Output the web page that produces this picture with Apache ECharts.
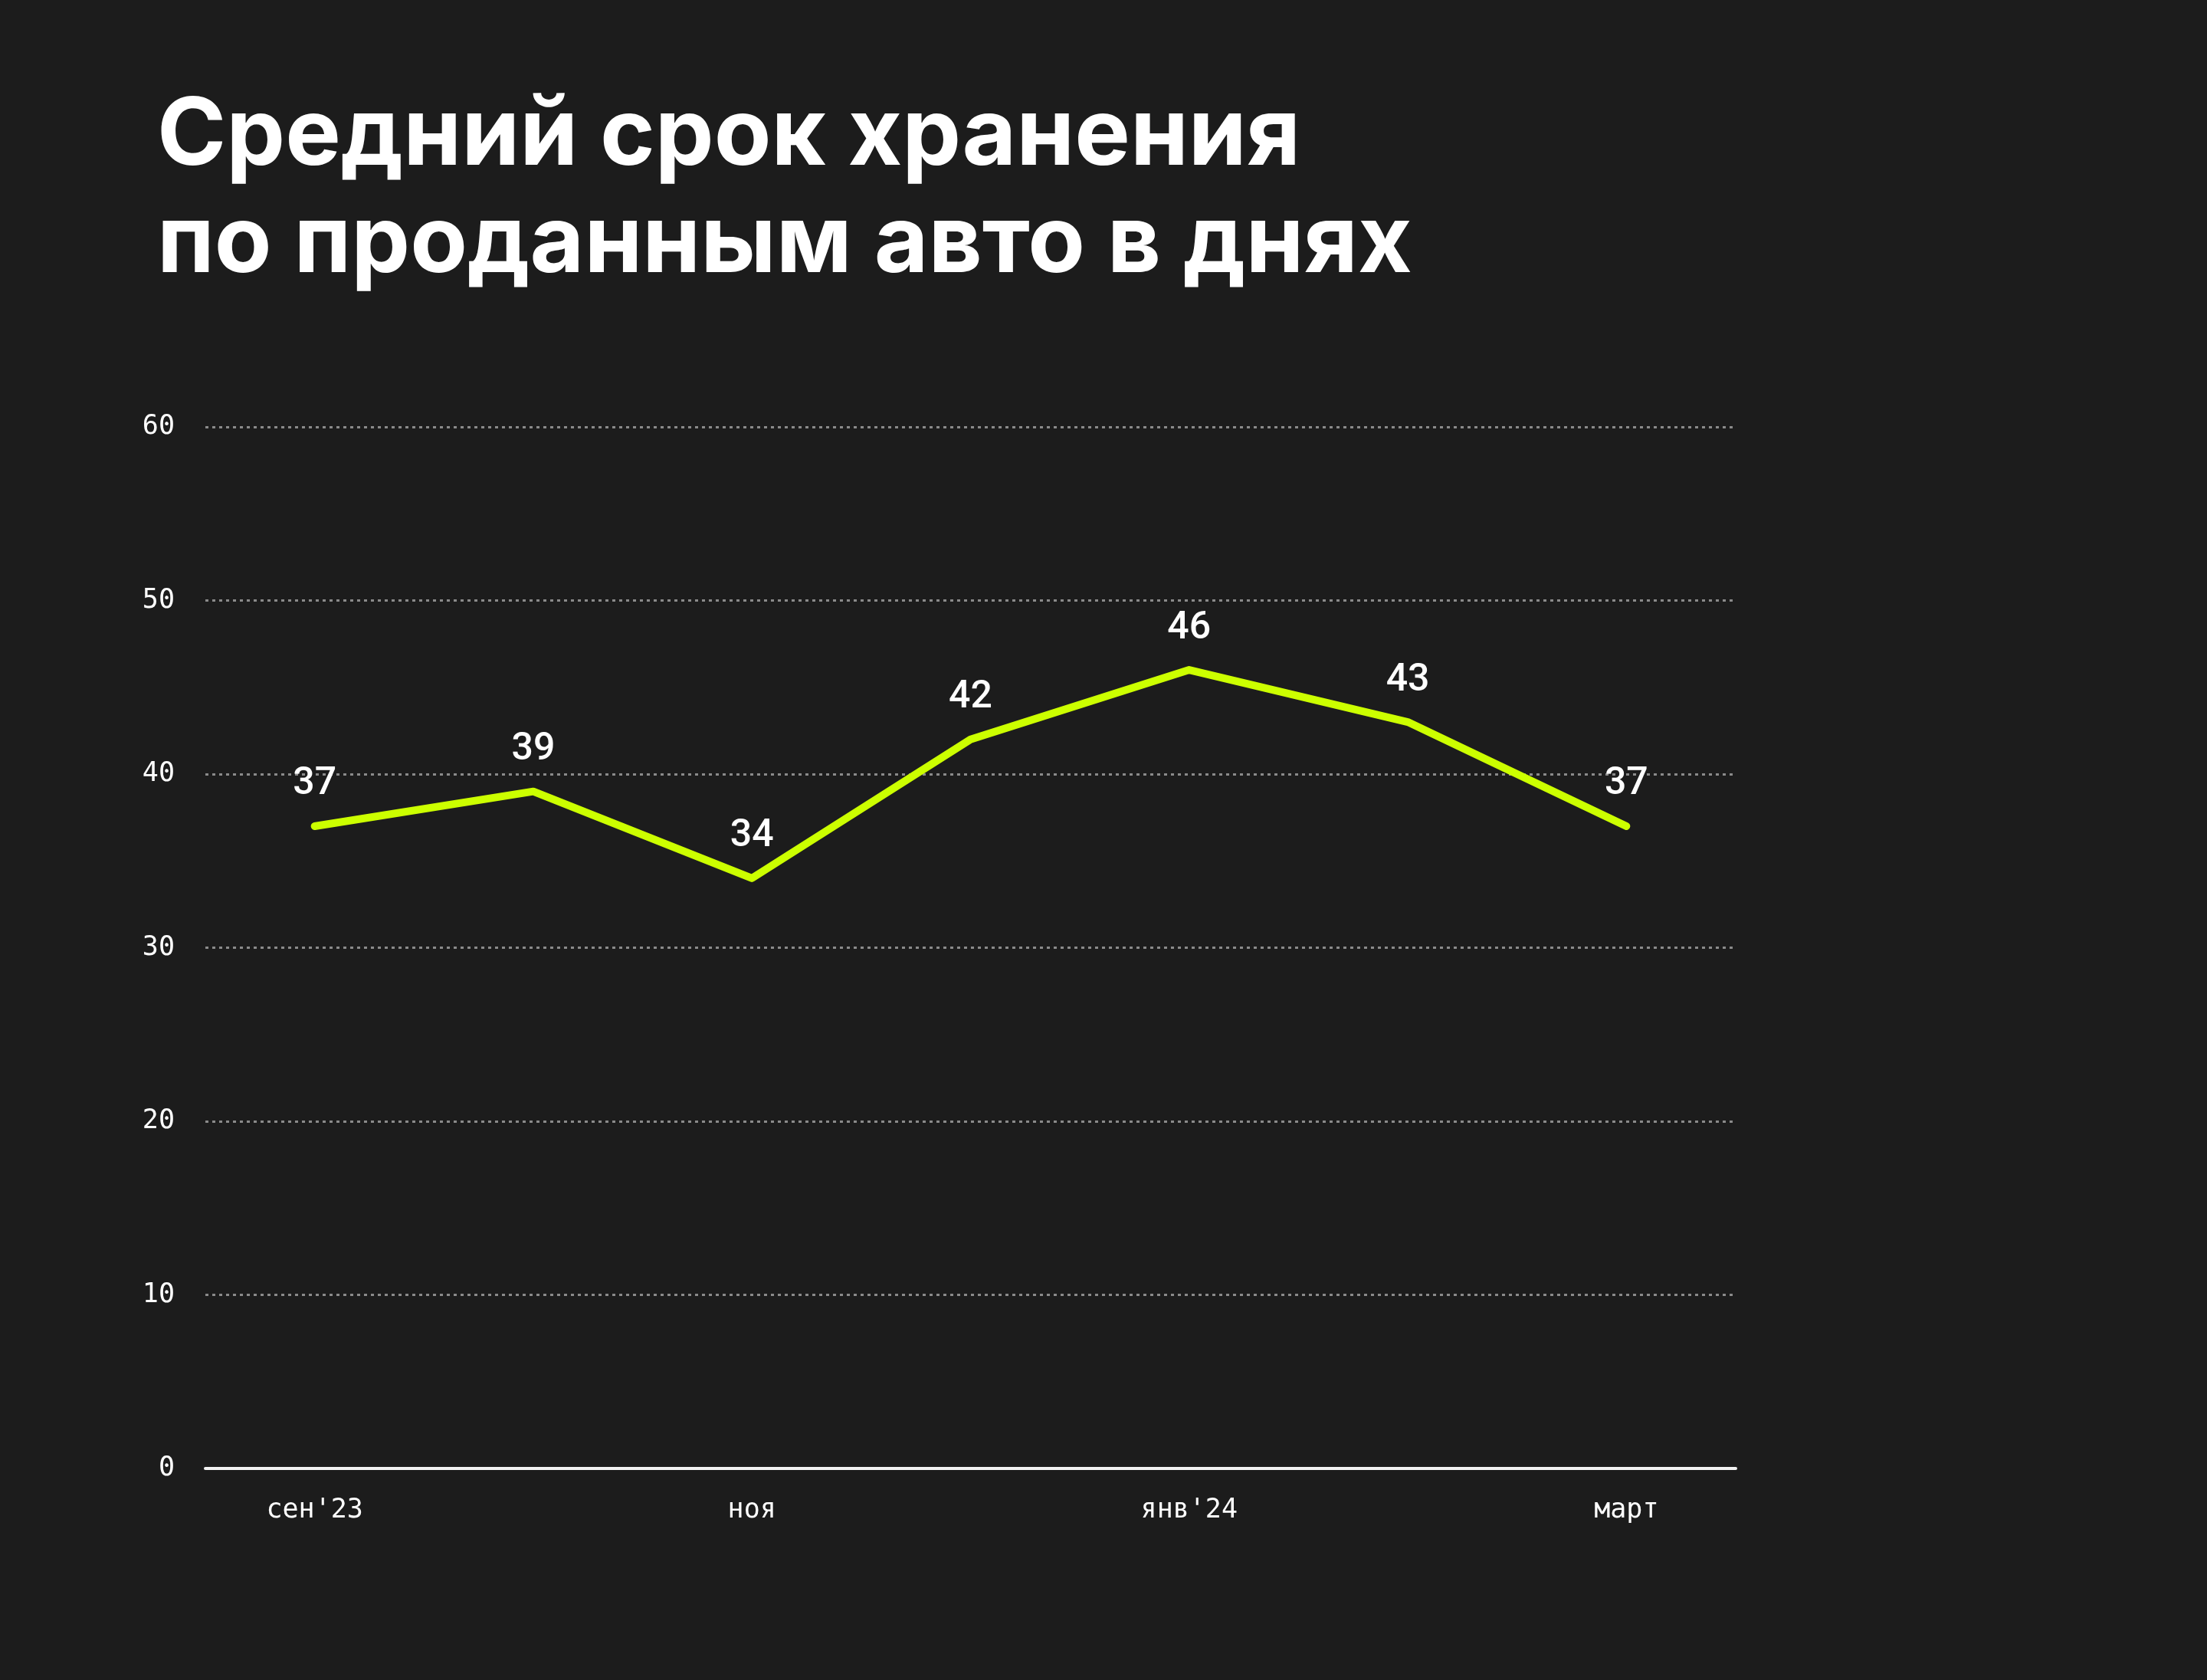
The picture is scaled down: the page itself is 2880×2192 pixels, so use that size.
<!DOCTYPE html>
<html>
<head>
<meta charset="utf-8">
<title>Средний срок хранения</title>
<script src="https://cdn.jsdelivr.net/npm/echarts@6/dist/echarts.min.js"></script>
<style>
  html, body { margin: 0; padding: 0; background: #1c1c1c; }
  #chart { width: 2880px; height: 2192px; }
</style>
</head>
<body>
<div id="chart"></div>
<script>
// данные
var months = ['сен\'23', 'окт', 'ноя', 'дек', 'янв\'24', 'фев', 'март']
var days = [37, 39, 34, 42, 46, 43, 37]
var titleText = 'Средний срок хранения\nпо проданным авто в днях'

var myChart = echarts.init(document.getElementById('chart'))

var monoFont = '"DejaVu Sans Mono", "Liberation Mono", monospace'

var option = {
  backgroundColor: '#1c1c1c',
  animation: false,
  title: {
    text: titleText,
    left: 200,
    top: 103,
    textStyle: {
      color: '#ffffff',
      fontFamily: 'Inter, "Noto Sans", sans-serif',
      fontWeight: 700,
      fontSize: 122,
      lineHeight: 140
    }
  },
  grid: {
    left: 268,
    right: 615,
    top: 557,
    bottom: 276,
    containLabel: false
  },
  xAxis: {
    type: 'category',
    data: months,
    boundaryGap: true,
    axisLine: {
      show: true,
      lineStyle: { color: '#f2f2f2', width: 4 }
    },
    axisTick: { show: false },
    axisLabel: {
      interval: 1,
      margin: 37,
      color: '#ffffff',
      fontFamily: monoFont,
      fontSize: 35
    },
    splitLine: { show: false }
  },
  yAxis: {
    type: 'value',
    min: 0,
    max: 60,
    interval: 10,
    axisLine: { show: false },
    axisTick: { show: false },
    axisLabel: {
      margin: 40,
      color: '#ffffff',
      fontFamily: monoFont,
      fontSize: 35
    },
    splitLine: {
      show: true,
      lineStyle: { color: '#8a8a8a', width: 3, type: [4, 5] }
    }
  },
  series: [
    {
      name: 'дни',
      type: 'line',
      data: days,
      // маленькая точка прячется под линией, нужна для подписей
      symbol: 'circle',
      symbolSize: 8,
      itemStyle: { color: '#ccff00' },
      lineStyle: {
        color: '#ccff00',
        width: 10,
        cap: 'round',
        join: 'round'
      },
      label: {
        show: true,
        position: 'top',
        distance: 25,
        color: '#ffffff',
        fontFamily: 'Roboto, "Noto Sans", sans-serif',
        fontWeight: 500,
        fontSize: 50
      }
    }
  ]
}

myChart.setOption(option)
</script>
</body>
</html>
